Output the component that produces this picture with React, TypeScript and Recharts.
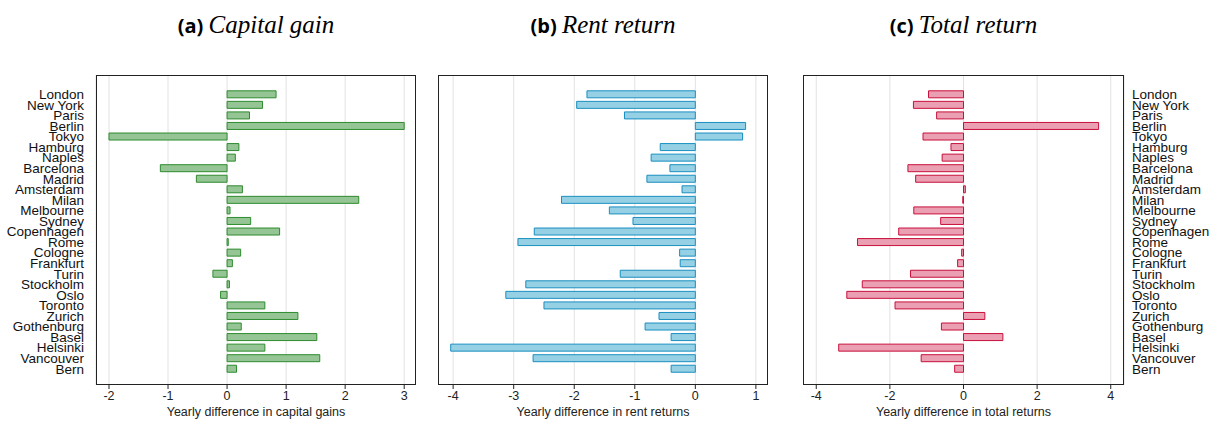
import { BarChart, Bar, XAxis, YAxis, CartesianGrid } from 'recharts';

const cities = [
  'London', 'New York', 'Paris', 'Berlin', 'Tokyo', 'Hamburg', 'Naples', 'Barcelona', 'Madrid',
  'Amsterdam', 'Milan', 'Melbourne', 'Sydney', 'Copenhagen', 'Rome', 'Cologne', 'Frankfurt',
  'Turin', 'Stockholm', 'Oslo', 'Toronto', 'Zurich', 'Gothenburg', 'Basel', 'Helsinki',
  'Vancouver', 'Bern',
];

const capitalGain = [
  0.83, 0.6, 0.38, 3.0, -2.0, 0.2, 0.14, -1.13, -0.52, 0.26, 2.23, 0.05, 0.4, 0.89, 0.02,
  0.23, 0.09, -0.24, 0.04, -0.11, 0.64, 1.2, 0.24, 1.52, 0.64, 1.57, 0.16,
];

const rentReturn = [
  -1.79, -1.96, -1.17, 0.83, 0.78, -0.58, -0.73, -0.42, -0.8, -0.22, -2.21, -1.42, -1.03,
  -2.66, -2.93, -0.26, -0.25, -1.24, -2.8, -3.13, -2.5, -0.6, -0.83, -0.4, -4.04, -2.68, -0.4,
];

const totalReturn = [
  -0.95, -1.36, -0.73, 3.67, -1.1, -0.34, -0.58, -1.51, -1.3, 0.05, -0.02, -1.35, -0.62,
  -1.76, -2.88, -0.05, -0.16, -1.44, -2.75, -3.17, -1.86, 0.58, -0.6, 1.07, -3.39, -1.15, -0.24,
];

const ticksA = [-2, -1, 0, 1, 2, 3];
const ticksB = [-4, -3, -2, -1, 0, 1];
const ticksC = [-4, -2, 0, 2, 4];

const data = cities.map((city, i) => ({
  city,
  cap: capitalGain[i],
  rent: rentReturn[i],
  total: totalReturn[i],
}));

const TOP = 75;
const PLOT_H = 310;
const H = 421;
const AXIS_H = H - TOP - PLOT_H;
const tickStyle = { fontSize: 12.5, fill: '#222', fontFamily: 'Liberation Sans, Arial' };
const cityTick = { fontSize: 13.5, fill: '#111', fontFamily: 'Liberation Sans, Arial' };

interface PanelProps {
  left: number;
  plotLeft: number;
  plotW: number;
  dataKey: string;
  domain: [number, number];
  ticks: number[];
  fill: string;
  stroke: string;
  xLabel: string;
  yAxis: 'left' | 'right' | 'none';
  letter: string;
  title: string;
}

function Panel(p: PanelProps) {
  const yw = 96;
  const width = p.plotW + (p.yAxis === 'none' ? 0 : yw);
  return (
    <div style={{ position: 'absolute', left: p.left, top: 0, width, height: H }}>
      <div style={{
        position: 'absolute', top: 11, left: p.plotLeft - p.left, width: p.plotW, textAlign: 'center',
        whiteSpace: 'nowrap',
      }}>
        <span style={{ fontFamily: 'Open Sans, sans-serif', fontWeight: 700, fontSize: 20 }}>{p.letter} </span>
        <span style={{ fontFamily: 'Liberation Serif, serif', fontStyle: 'italic', fontSize: 25 }}>{p.title}</span>
      </div>
      <BarChart
        width={width}
        height={H}
        data={data}
        layout="vertical"
        barCategoryGap={1.8}
        margin={{ top: TOP, right: 0, left: 0, bottom: 0 }}
      >
        <CartesianGrid horizontal={false} stroke="#e2e2e2" />
        <XAxis
          type="number"
          domain={p.domain}
          ticks={p.ticks}
          allowDataOverflow
          tick={tickStyle}
          tickLine={{ stroke: '#222' }}
          axisLine={false}
          tickSize={4}
          label={{ value: p.xLabel, position: 'insideBottom', offset: 5, style: { ...tickStyle, fontSize: 12.5 } }}
          height={AXIS_H}
        />
        <YAxis
          type="category"
          dataKey="city"
          hide={p.yAxis === 'none'}
          orientation={p.yAxis === 'right' ? 'right' : 'left'}
          width={yw}
          interval={0}
          padding={{ top: 14, bottom: 11 }}
          tick={{ ...cityTick, textAnchor: p.yAxis === 'right' ? 'start' : 'end' } as any}
          tickLine={false}
          axisLine={false}
          tickMargin={p.yAxis === 'right' ? 2 : 6}
        />
        <Bar dataKey={p.dataKey} fill={p.fill} stroke={p.stroke} strokeWidth={1} isAnimationActive={false} />
      </BarChart>
      <div style={{
        position: 'absolute', left: p.plotLeft - p.left, top: TOP, width: p.plotW, height: PLOT_H,
        border: '1.5px solid #222', boxSizing: 'border-box', pointerEvents: 'none',
      }} />
    </div>
  );
}

export default function App() {
  return (
    <div style={{ position: 'fixed', left: 0, top: 0, width: 1220, height: 421, background: '#fff' }}>
      <Panel left={0} plotLeft={96} plotW={320} dataKey="cap" domain={[-2.22, 3.2]} ticks={ticksA}
        fill="#95c595" stroke="#2e8b2e" xLabel="Yearly difference in capital gains" yAxis="left"
        letter="(a)" title="Capital gain" />
      <Panel left={438} plotLeft={438} plotW={330} dataKey="rent" domain={[-4.25, 1.2]} ticks={ticksB}
        fill="#96d0e4" stroke="#1a8fc0" xLabel="Yearly difference in rent returns" yAxis="none"
        letter="(b)" title="Rent return" />
      <Panel left={803} plotLeft={803} plotW={321} dataKey="total" domain={[-4.36, 4.36]} ticks={ticksC}
        fill="#eb9fb2" stroke="#c8103c" xLabel="Yearly difference in total returns" yAxis="right"
        letter="(c)" title="Total return" />
    </div>
  );
}
